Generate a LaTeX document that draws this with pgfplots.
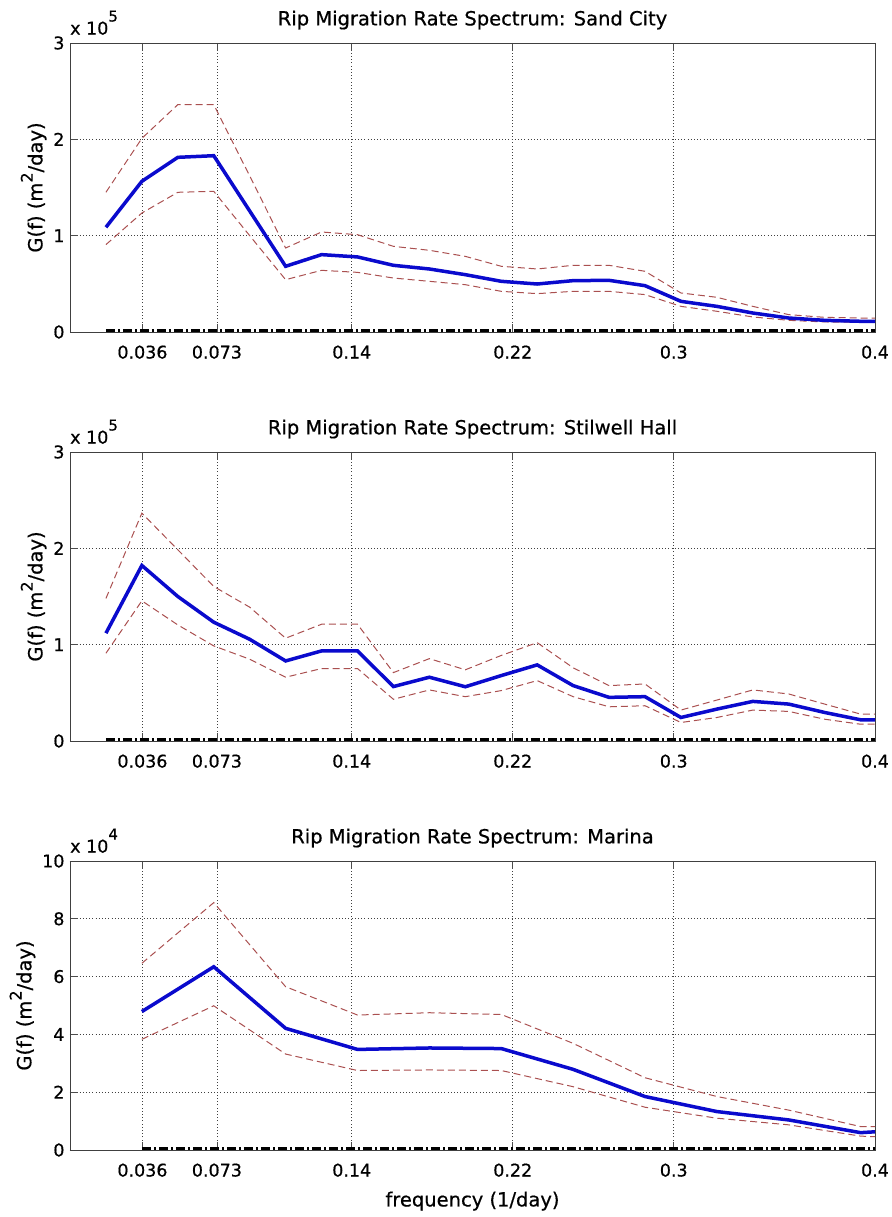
\documentclass[border=0pt]{standalone}
\usepackage{pgfplots}
\pgfplotsset{compat=1.18}
\usepackage{fontspec}
\setmainfont{DejaVu Sans}[FakeBold=0.6]
\definecolor{mblue}{RGB}{10,10,205}
\definecolor{mred}{RGB}{170,80,80}
\pgfplotsset{
  panel/.style={
    scale only axis, width=805pt, height=289pt,
    xmin=0, xmax=0.4,
    xtick={0.036,0.073,0.14,0.22,0.3,0.4},
    xticklabels={0.036,0.073,0.14,0.22,0.3,0.4},
    grid=major,
    major grid style={black!75, line width=0.6pt, dash pattern=on 0.8pt off 2.4pt},
    tick align=inside,
    major tick length=8pt,
    tick style={black!70, line width=0.8pt},
    axis line style={black!75, line width=0.9pt},
    tick label style={font=\fontsize{17.5}{21}\selectfont},
    label style={font=\fontsize{19.5}{23}\selectfont},
    title style={font=\fontsize{19.5}{23}\selectfont, yshift=4pt},
    /pgf/number format/assume math mode=true,
    xticklabel style={yshift=-10pt},
    yticklabel style={xshift=-2pt},
    xlabel style={yshift=-8pt},
    ylabel={G(f) (m\raisebox{0.5em}{\fontsize{16}{18}\selectfont 2}/day)},
    ymin=0,
  },
  expo/.style={after end axis/.append code={
    \node[anchor=south west, inner sep=0pt, font=\fontsize{17.5}{21}\selectfont]
      at ([yshift=8pt]rel axis cs:0,1) {x 10\raisebox{13pt}{\fontsize{15}{17}\selectfont #1}};}},
  mean/.style={mblue, line width=3.5pt},
  conf/.style={mred, line width=1pt, dash pattern=on 7pt off 4pt},
  zero/.style={black, line width=3.5pt, dash pattern=on 9pt off 3pt on 2pt off 3pt},
}
\begin{document}
\begin{tikzpicture}
\path[use as bounding box] (0,0) rectangle (891pt,1217pt);

% ---------- Sand City ----------
\begin{axis}[panel, expo=5, at={(70pt,885pt)}, anchor=south west,
  ymax=3, ytick={0,1,2,3},
  title={Rip Migration Rate Spectrum: Sand City}]
\addplot[conf] coordinates {(0.01786,1.45)(0.03571,2.01)(0.05357,2.36)(0.07143,2.36)(0.08929,1.62)(0.10714,0.872)(0.125,1.038)(0.14286,1.01)(0.16071,0.889)(0.17857,0.848)(0.19643,0.785)(0.21429,0.682)(0.23214,0.654)(0.25,0.692)(0.26786,0.692)(0.28571,0.63)(0.30357,0.405)(0.32143,0.36)(0.33929,0.266)(0.35714,0.18)(0.375,0.152)(0.39286,0.145)(0.4,0.145)};
\addplot[conf] coordinates {(0.01786,0.907)(0.03571,1.235)(0.05357,1.45)(0.07143,1.46)(0.08929,1.0)(0.10714,0.543)(0.125,0.64)(0.14286,0.619)(0.16071,0.56)(0.17857,0.526)(0.19643,0.491)(0.21429,0.422)(0.23214,0.398)(0.25,0.422)(0.26786,0.422)(0.28571,0.388)(0.30357,0.266)(0.32143,0.215)(0.33929,0.156)(0.35714,0.121)(0.375,0.104)(0.39286,0.10)(0.4,0.10)};
\addplot[mean] coordinates {(0.01786,1.087)(0.03571,1.564)(0.05357,1.813)(0.07143,1.830)(0.08929,1.256)(0.10714,0.682)(0.125,0.803)(0.14286,0.779)(0.16071,0.692)(0.17857,0.654)(0.19643,0.595)(0.21429,0.526)(0.23214,0.498)(0.25,0.533)(0.26786,0.536)(0.28571,0.481)(0.30357,0.318)(0.32143,0.266)(0.33929,0.197)(0.35714,0.145)(0.375,0.121)(0.39286,0.111)(0.4,0.110)};
\addplot[zero] coordinates {(0.01786,0.015)(0.4,0.015)};
\end{axis}

% ---------- Stilwell Hall ----------
\begin{axis}[panel, expo=5, at={(70pt,476pt)}, anchor=south west,
  ymax=3, ytick={0,1,2,3},
  title={Rip Migration Rate Spectrum: Stilwell Hall}]
\addplot[conf] coordinates {(0.01786,1.48)(0.03571,2.365)(0.05357,1.985)(0.07143,1.604)(0.08929,1.389)(0.10714,1.067)(0.125,1.212)(0.14286,1.212)(0.16071,0.71)(0.17857,0.855)(0.19643,0.739)(0.21429,0.888)(0.23214,1.021)(0.25,0.76)(0.26786,0.575)(0.28571,0.592)(0.30357,0.321)(0.32143,0.425)(0.33929,0.53)(0.35714,0.488)(0.375,0.383)(0.39286,0.279)(0.4,0.279)};
\addplot[conf] coordinates {(0.01786,0.911)(0.03571,1.455)(0.05357,1.205)(0.07143,0.987)(0.08929,0.849)(0.10714,0.662)(0.125,0.752)(0.14286,0.752)(0.16071,0.433)(0.17857,0.53)(0.19643,0.46)(0.21429,0.523)(0.23214,0.627)(0.25,0.46)(0.26786,0.355)(0.28571,0.366)(0.30357,0.192)(0.32143,0.244)(0.33929,0.321)(0.35714,0.307)(0.375,0.226)(0.39286,0.174)(0.4,0.174)};
\addplot[mean] coordinates {(0.01786,1.119)(0.03571,1.822)(0.05357,1.50)(0.07143,1.233)(0.08929,1.056)(0.10714,0.831)(0.125,0.935)(0.14286,0.935)(0.16071,0.565)(0.17857,0.662)(0.19643,0.563)(0.21429,0.679)(0.23214,0.79)(0.25,0.575)(0.26786,0.453)(0.28571,0.46)(0.30357,0.244)(0.32143,0.331)(0.33929,0.411)(0.35714,0.383)(0.375,0.296)(0.39286,0.22)(0.4,0.22)};
\addplot[zero] coordinates {(0.01786,0.015)(0.4,0.015)};
\end{axis}

% ---------- Marina ----------
\begin{axis}[panel, expo=4, at={(70pt,67pt)}, anchor=south west,
  ymax=10, ytick={0,2,4,6,8,10},
  title={Rip Migration Rate Spectrum: Marina},
  xlabel={frequency (1/day)}]
\addplot[conf] coordinates {(0.03571,6.46)(0.07143,8.56)(0.10714,5.65)(0.14286,4.67)(0.17857,4.75)(0.21429,4.69)(0.25,3.69)(0.28571,2.50)(0.32143,1.85)(0.35714,1.38)(0.39286,0.81)(0.4,0.81)};
\addplot[conf] coordinates {(0.03571,3.83)(0.07143,4.99)(0.10714,3.32)(0.14286,2.75)(0.17857,2.77)(0.21429,2.75)(0.25,2.19)(0.28571,1.48)(0.32143,1.10)(0.35714,0.87)(0.39286,0.48)(0.4,0.46)};
\addplot[mean] coordinates {(0.03571,4.79)(0.07143,6.34)(0.10714,4.21)(0.14286,3.48)(0.17857,3.53)(0.21429,3.51)(0.25,2.79)(0.28571,1.85)(0.32143,1.33)(0.35714,1.04)(0.39286,0.60)(0.4,0.63)};
\addplot[zero] coordinates {(0.03571,0.05)(0.4,0.05)};
\end{axis}
\end{tikzpicture}
\end{document}
